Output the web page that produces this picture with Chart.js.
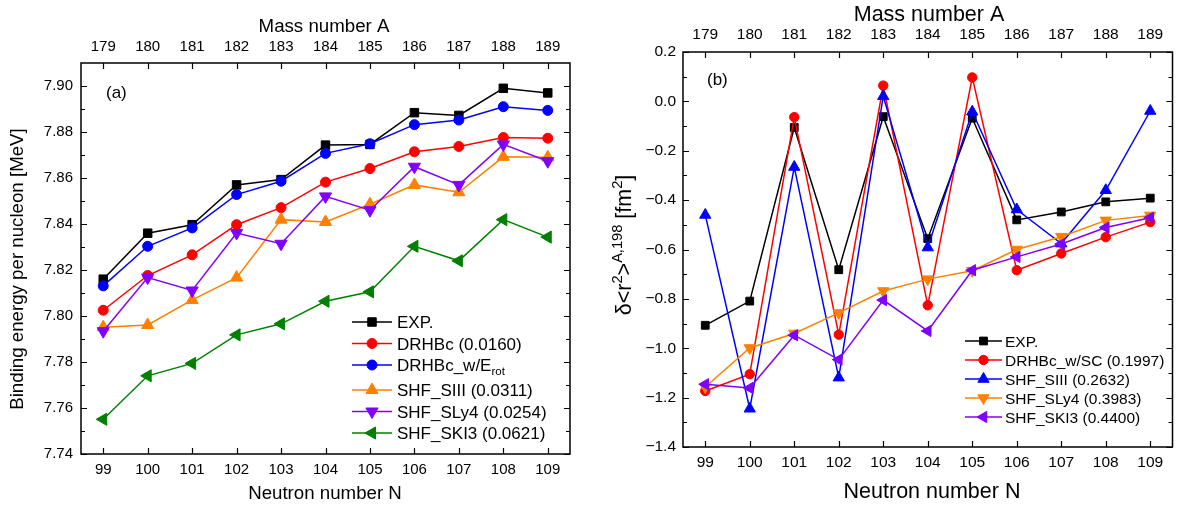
<!DOCTYPE html>
<html>
<head>
<meta charset="utf-8">
<script src="https://cdn.jsdelivr.net/npm/chart.js@4.4.1/dist/chart.umd.min.js"></script>
<style>
  html, body { margin: 0; padding: 0; background: #fff; }
  #wrap { position: relative; width: 1180px; height: 506px; }
  canvas { position: absolute; top: 0; }
  #left { left: 0; }
  #right { left: 590px; }
</style>
</head>
<body>
<div id="wrap">
  <canvas id="left" width="590" height="506"></canvas>
  <canvas id="right" width="590" height="506"></canvas>
</div>
<script>
const FONT = '"Liberation Sans", Arial, Helvetica, sans-serif';

const neutronN = [99, 100, 101, 102, 103, 104, 105, 106, 107, 108, 109];
const massA = [179, 180, 181, 182, 183, 184, 185, 186, 187, 188, 189];

// (a) binding energy per nucleon [MeV]
const beTicks = [7.74, 7.76, 7.78, 7.80, 7.82, 7.84, 7.86, 7.88, 7.90];
const beExp = [7.816, 7.836, 7.8397, 7.857, 7.8593, 7.8743, 7.8746, 7.8884, 7.8872, 7.899, 7.897];
const beDrhbc = [7.8025, 7.8176, 7.8266, 7.8397, 7.8471, 7.8582, 7.8641, 7.8714, 7.8737, 7.8776, 7.8773];
const beDrhbcRot = [7.8131, 7.8303, 7.8383, 7.8528, 7.8586, 7.8707, 7.8749, 7.8832, 7.8852, 7.891, 7.8894];
const beSIII = [7.7951, 7.7961, 7.807, 7.8167, 7.8419, 7.8409, 7.8486, 7.857, 7.8538, 7.8692, 7.869];
const beSLy4 = [7.7934, 7.8167, 7.8111, 7.8361, 7.8314, 7.852, 7.846, 7.8649, 7.857, 7.8746, 7.8673];
const beSKI3 = [7.7551, 7.774, 7.7794, 7.7918, 7.7966, 7.8064, 7.8105, 7.8303, 7.824, 7.8419, 7.8343];
const namesA = ['EXP.', 'DRHBc (0.0160)', 'DRHBc_w/E_{rot}', 'SHF_SIII (0.0311)', 'SHF_SLy4 (0.0254)', 'SHF_SKI3 (0.0621)'];

// (b) change of mean-square charge radius relative to A = 198 [fm^2]
const drTicks = [-1.4, -1.2, -1.0, -0.8, -0.6, -0.4, -0.2, 0.0, 0.2];
const drExp = [-0.907, -0.809, -0.106, -0.682, -0.062, -0.556, -0.068, -0.48, -0.448, -0.407, -0.392];
const drDrhbcSC = [-1.173, -1.105, -0.064, -0.945, 0.064, -0.826, 0.097, -0.684, -0.616, -0.55, -0.489];
const drSIII = [-0.46, -1.245, -0.266, -1.119, 0.021, -0.592, -0.042, -0.438, -0.576, -0.36, -0.039];
const drSLy4 = [-1.157, -0.999, -0.94, -0.857, -0.768, -0.72, -0.686, -0.6, -0.548, -0.482, -0.462];
const drSKI3 = [-1.146, -1.161, -0.947, -1.046, -0.805, -0.93, -0.684, -0.63, -0.578, -0.511, -0.471];
const namesB = ['EXP.', 'DRHBc_w/SC (0.1997)', 'SHF_SIII (0.2632)', 'SHF_SLy4 (0.3983)', 'SHF_SKI3 (0.4400)'];

const BLACK = '#000000', RED = '#ff0000', BLUE = '#0000ff';
const ORANGE = '#ff8000', VIOLET = '#8000ff', GREEN = '#008000';

// marker shapes: [pointStyle, rotation]
const SQUARE = ['rect', 0], CIRCLE = ['circle', 0];
const TRI_UP = ['triangle', 0], TRI_DOWN = ['triangle', 180], TRI_LEFT = ['triangle', -90];

const seriesA = [
  [beExp, BLACK, SQUARE], [beDrhbc, RED, CIRCLE], [beDrhbcRot, BLUE, CIRCLE],
  [beSIII, ORANGE, TRI_UP], [beSLy4, VIOLET, TRI_DOWN], [beSKI3, GREEN, TRI_LEFT]
];
const seriesB = [
  [drExp, BLACK, SQUARE], [drDrhbcSC, RED, CIRCLE], [drSIII, BLUE, TRI_UP],
  [drSLy4, ORANGE, TRI_DOWN], [drSKI3, VIOLET, TRI_LEFT]
];

// "_{..}" subscript, "^{..}" superscript
function parseRuns(str) {
  const runs = [];
  const re = /([_^])\{([^}]*)\}/g;
  let last = 0, m;
  while ((m = re.exec(str))) {
    if (m.index > last) runs.push({ t: str.slice(last, m.index), k: '' });
    runs.push({ t: m[2], k: m[1] });
    last = re.lastIndex;
  }
  if (last < str.length) runs.push({ t: str.slice(last), k: '' });
  return runs;
}

function richText(ctx, str, x, y, size, align) {
  const runs = parseRuns(str);
  const fontOf = r => `${r.k ? size * 0.68 : size}px ${FONT}`;
  let w = 0;
  runs.forEach(r => { ctx.font = fontOf(r); r.w = ctx.measureText(r.t).width; w += r.w; });
  let cx = align === 'center' ? x - w / 2 : x;
  ctx.textAlign = 'left';
  ctx.textBaseline = 'alphabetic';
  runs.forEach(r => {
    ctx.font = fontOf(r);
    const dy = r.k === '_' ? size * 0.24 : r.k === '^' ? -size * 0.42 : 0;
    ctx.fillText(r.t, cx, y + dy);
    cx += r.w;
  });
}

function marker(ctx, style, rot, radius, x, y) {
  if (Chart.helpers && Chart.helpers.drawPoint) {
    Chart.helpers.drawPoint(ctx, { pointStyle: style, rotation: rot, radius, borderWidth: 1 }, x, y);
    return;
  }
  ctx.beginPath();
  if (style === 'circle') {
    ctx.arc(x, y, radius, 0, Math.PI * 2);
  } else if (style === 'rect') {
    const s = radius * Math.SQRT1_2;
    ctx.rect(x - s, y - s, 2 * s, 2 * s);
  } else {
    let a = rot * Math.PI / 180;
    for (let i = 0; i < 3; i++, a += Math.PI * 2 / 3) {
      ctx.lineTo(x + Math.sin(a) * radius, y - Math.cos(a) * radius);
    }
    ctx.closePath();
  }
  ctx.fill();
  ctx.stroke();
}

// frame with inward ticks, axis titles, panel letter and legend
function makeDecor(cfg) {
  return {
    id: 'decor',
    afterDraw(chart) {
      const { ctx, chartArea: a, scales } = chart;
      ctx.save();
      ctx.strokeStyle = '#000';
      ctx.lineWidth = 1.5;
      ctx.strokeRect(a.left, a.top, a.right - a.left, a.bottom - a.top);

      ctx.lineWidth = 1.2;
      ctx.beginPath();
      neutronN.forEach(n => {
        const px = Math.round(scales.x.getPixelForValue(n)) + 0.5;
        ctx.moveTo(px, a.bottom); ctx.lineTo(px, a.bottom - 6);
        ctx.moveTo(px, a.top); ctx.lineTo(px, a.top + 6);
      });
      const yt = cfg.yTicks;
      yt.forEach((v, i) => {
        const py = Math.round(scales.y.getPixelForValue(v)) + 0.5;
        ctx.moveTo(a.left, py); ctx.lineTo(a.left + 6, py);
        ctx.moveTo(a.right, py); ctx.lineTo(a.right - 6, py);
        if (i < yt.length - 1) {
          const pm = Math.round(scales.y.getPixelForValue((v + yt[i + 1]) / 2)) + 0.5;
          ctx.moveTo(a.left, pm); ctx.lineTo(a.left + 4, pm);
          ctx.moveTo(a.right, pm); ctx.lineTo(a.right - 4, pm);
        }
      });
      ctx.stroke();

      ctx.fillStyle = '#000';
      const t = cfg.titles;
      richText(ctx, 'Mass number A', t.topX, t.topY, t.size, 'center');
      richText(ctx, 'Neutron number N', t.botX, t.botY, t.size, 'center');
      ctx.save();
      ctx.translate(t.leftX, t.leftY);
      ctx.rotate(-Math.PI / 2);
      richText(ctx, cfg.yTitle, 0, 0, t.ySize, 'center');
      ctx.restore();

      ctx.font = `${cfg.letter.size}px ${FONT}`;
      ctx.textAlign = 'left';
      ctx.textBaseline = 'middle';
      ctx.fillText(cfg.letter.text, cfg.letter.x, cfg.letter.y);

      const L = cfg.legend;
      let y = L.y0;
      cfg.series.forEach((s, i) => {
        const [, color, [style, rot]] = s;
        ctx.strokeStyle = color;
        ctx.fillStyle = color;
        ctx.lineWidth = 1.5;
        ctx.beginPath();
        ctx.moveTo(L.x0, y); ctx.lineTo(L.x1, y);
        ctx.stroke();
        ctx.lineWidth = 1;
        marker(ctx, style, rot, style === 'triangle' ? cfg.r.tri : style === 'rect' ? cfg.r.rect : cfg.r.circ, (L.x0 + L.x1) / 2, y);
        ctx.fillStyle = '#000';
        richText(ctx, cfg.names[i], L.xt, y + L.size * 0.36, L.size, 'left');
        y += L.step + (cfg.names[i].includes('_{') ? L.extra : 0);
      });
      ctx.restore();
    }
  };
}

function buildChart(canvas, cfg) {
  const tickFont = { family: FONT, size: cfg.tickSize };
  const setTicks = vals => s => { s.ticks = vals.map(v => ({ value: v })); };
  const datasets = cfg.series.map(([vals, color, [style, rot]], i) => ({
    label: cfg.names[i].replace(/[_^]\{([^}]*)\}/g, '$1'),
    data: neutronN.map((n, j) => ({ x: n, y: vals[j] })),
    borderColor: color,
    backgroundColor: color,
    borderWidth: 1.5,
    pointStyle: style,
    pointRotation: rot,
    pointRadius: style === 'triangle' ? cfg.r.tri : style === 'rect' ? cfg.r.rect : cfg.r.circ,
    pointBorderWidth: 1,
    pointBackgroundColor: color,
    pointBorderColor: color,
    tension: 0,
    order: cfg.series.length - i,
    xAxisID: 'x',
    yAxisID: 'y'
  }));
  const hidden = { grid: { display: false, drawTicks: false }, border: { display: false } };
  const box = cfg.box;
  return new Chart(canvas, {
    type: 'line',
    data: { datasets },
    options: {
      responsive: false,
      animation: false,
      devicePixelRatio: 1,
      layout: { padding: 0 },
      plugins: { legend: { display: false }, tooltip: { enabled: false } },
      scales: {
        x: {
          type: 'linear', position: 'bottom', min: 98.5, max: 109.5, ...hidden,
          afterBuildTicks: setTicks(neutronN),
          afterFit: s => { s.height = 506 - box.bottom; },
          ticks: { font: tickFont, color: '#000', padding: cfg.pad.bottom, autoSkip: false, maxRotation: 0,
                   callback: v => String(v) }
        },
        x2: {
          type: 'linear', position: 'top', min: 98.5, max: 109.5, ...hidden,
          afterBuildTicks: setTicks(neutronN),
          afterFit: s => { s.height = box.top; },
          ticks: { font: tickFont, color: '#000', padding: cfg.pad.top, autoSkip: false, maxRotation: 0,
                   callback: (v, i) => String(massA[i]) }
        },
        y: {
          type: 'linear', position: 'left', min: cfg.yMin, max: cfg.yMax, ...hidden,
          afterBuildTicks: setTicks(cfg.yTicks),
          afterFit: s => { s.width = box.left; },
          ticks: { font: tickFont, color: '#000', padding: cfg.pad.left, autoSkip: false,
                   callback: cfg.fmt }
        },
        y2: {
          type: 'linear', position: 'right', min: cfg.yMin, max: cfg.yMax, ...hidden,
          afterBuildTicks: setTicks(cfg.yTicks),
          afterFit: s => { s.width = 590 - box.right; },
          ticks: { display: false }
        }
      }
    },
    plugins: [makeDecor(cfg)]
  });
}

buildChart(document.getElementById('left'), {
  series: seriesA,
  names: namesA,
  yTicks: beTicks,
  yMin: 7.74, yMax: 7.91,
  fmt: v => v.toFixed(2),
  box: { left: 81, right: 570, top: 63, bottom: 454 },
  pad: { bottom: 7, top: 7, left: 8 },
  tickSize: 15,
  r: { rect: 6, circ: 5, tri: 7 },
  yTitle: 'Binding energy per nucleon [MeV]',
  titles: { size: 18.7, topX: 324, topY: 31.5, botX: 325, botY: 499, leftX: 23, leftY: 269, ySize: 18.7 },
  letter: { text: '(a)', x: 106, y: 93, size: 17 },
  legend: { x0: 352, x1: 392, xt: 397, y0: 322, step: 21.5, extra: 3.5, size: 17 }
});

buildChart(document.getElementById('right'), {
  series: seriesB,
  names: namesB,
  yTicks: drTicks,
  yMin: -1.4, yMax: 0.2,
  fmt: v => (v < -1e-9 ? '\u2212' : '') + Math.abs(v).toFixed(1),
  box: { left: 93, right: 583, top: 52, bottom: 447 },
  pad: { bottom: 6, top: 7.5, left: 7 },
  tickSize: 15.5,
  r: { rect: 5.5, circ: 4.7, tri: 6.5 },
  yTitle: '\u03b4<r^{2}>^{A,198} [fm^{2}]',
  titles: { size: 21.5, topX: 339, topY: 21, botX: 342, botY: 498, leftX: 41, leftY: 245, ySize: 21.5 },
  letter: { text: '(b)', x: 117, y: 80, size: 17 },
  legend: { x0: 375, x1: 412, xt: 415, y0: 341, step: 19, extra: 0, size: 15.5 }
});
</script>
</body>
</html>
